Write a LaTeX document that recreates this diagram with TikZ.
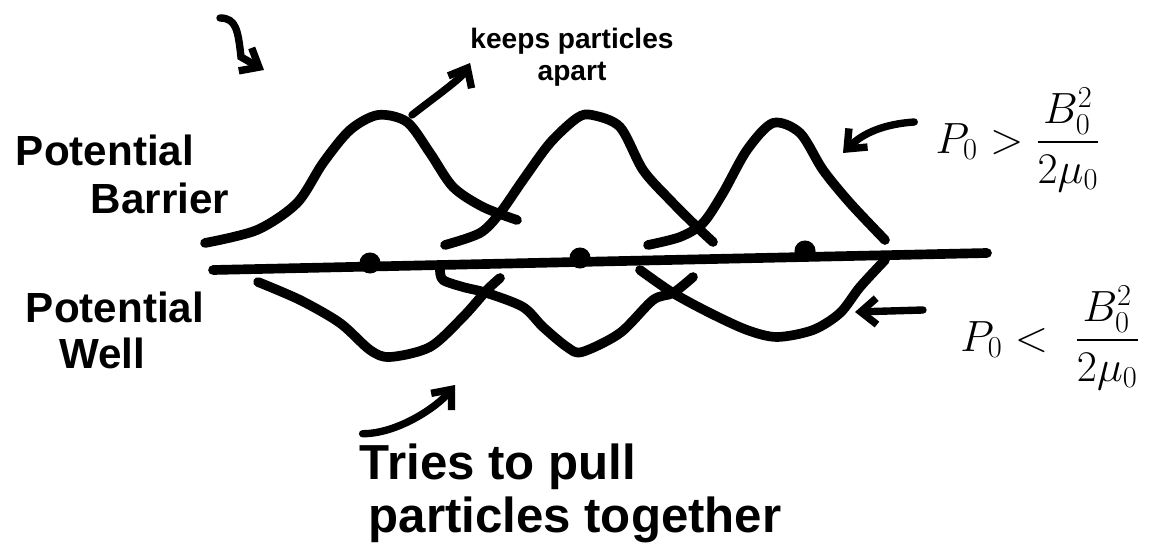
\documentclass[tikz,border=0pt]{standalone}
\usepackage{amsmath}
\usepackage{fontspec}
\setmainfont{Liberation Sans}
\usetikzlibrary{arrows.meta,positioning}

\tikzset{
  curve/.style={line width=5.5pt, line cap=round, line join=round},
  note/.style={line width=4.2pt, line cap=round, -{Straight Barb[length=9pt,width=15pt]}},
  hand/.style={font=\bfseries\fontsize{24}{26}\selectfont, inner sep=0pt},
  handsmall/.style={font=\bfseries\fontsize{16}{18}\selectfont, inner sep=0pt, align=center},
  handbig/.style={font=\bfseries\fontsize{28}{30}\selectfont, inner sep=0pt},
  mathlbl/.style={font=\fontsize{25}{28}\selectfont, inner sep=0pt},
  particle/.style={circle, fill, inner sep=0pt, minimum size=12pt},
}

\begin{document}
\begin{tikzpicture}[x=0.02cm, y=-0.02cm]
    \useasboundingbox (0,0) rectangle (1158,550);

    % axis and particles
    \coordinate (axisL) at (213,270);
    \coordinate (axisR) at (987,253);
    \draw[curve] (axisL) -- (axisR);
    \node[particle] (p1) at (370,263) {};
    \node[particle] (p2) at (580,258) {};
    \node[particle] (p3) at (805,251) {};

    % potential barrier (upper bumps)
    \draw[curve] plot[smooth] coordinates {(205,243) (257,230) (297,203) (323,163) (350,130) (378,115) (407,122) (430,153) (453,187) (483,207) (517,220)};
    \draw[curve] plot[smooth] coordinates {(445,245) (480,233) (500,213) (523,180) (550,143) (577,118) (592,115) (620,127) (643,170) (670,200) (697,227) (713,242)};
    \draw[curve] plot[smooth] coordinates {(648,245) (680,237) (703,223) (723,193) (747,150) (773,123) (800,133) (823,170) (850,203) (885,240)};

    % potential well (lower dips)
    \draw[curve] plot[smooth] coordinates {(258,282) (300,300) (340,323) (370,350) (390,357) (430,347) (463,317) (487,290) (500,278)};
    \draw[curve] plot[smooth] coordinates {(440,270) (443,280) (463,287) (487,293) (523,307) (543,327) (567,347) (582,352) (620,333) (653,300) (673,293) (693,277)};
    \draw[curve] plot[smooth] coordinates {(640,270) (673,293) (710,313) (747,330) (777,337) (813,330) (840,313) (860,287) (885,260)};

    % labels
    \node[hand] (barrierA) at (105,150) {Potential};
    \node[hand] (barrierB) at (160,198) {Barrier};
    \node[hand] (wellA) at (115,307) {Potential};
    \node[hand] (wellB) at (102,353) {Well};
    \node[handsmall] (keep) at (572,57) {keeps particles\\apart};
    \node[handbig] (pullA) at (498,467) {Tries to pull};
    \node[handbig] (pullB) at (575,520) {particles together};
    \node[mathlbl] (pgt) at (1018,140) {$P_0 > \dfrac{B_0^2}{2\mu_0}$};
    \node[mathlbl] (plt) at (1050,338) {$P_0 <\,\, \dfrac{B_0^2}{2\mu_0}$};

    % arrows
    \coordinate (peakA) at (412,115);
    \coordinate (gtTip) at (843,153);
    \coordinate (ltTip) at (855,312);
    \coordinate (pullTip) at (455,385);
    \draw[note] (peakA) .. controls +(15,-12) and +(-8,15) .. (keep.west |- 0,63);
    \draw[note] ([shift={(-21,-18)}]pgt.west) .. controls +(-30,2) and +(20,-20) .. (gtTip);
    \draw[note] ([shift={(-37,-28)}]plt.west) -- (ltTip);
    \draw[note] ([shift={(3,-10)}]pullA.north west) .. controls +(35,0) and +(-18,22) .. (pullTip);

    % stray hook mark
    \coordinate (hookA) at (220,18);
    \coordinate (hookB) at (264,70);
    \draw[note] (hookA) .. controls (236,18) and (238,30) .. (241,57) -- (hookB);
\end{tikzpicture}
\end{document}
